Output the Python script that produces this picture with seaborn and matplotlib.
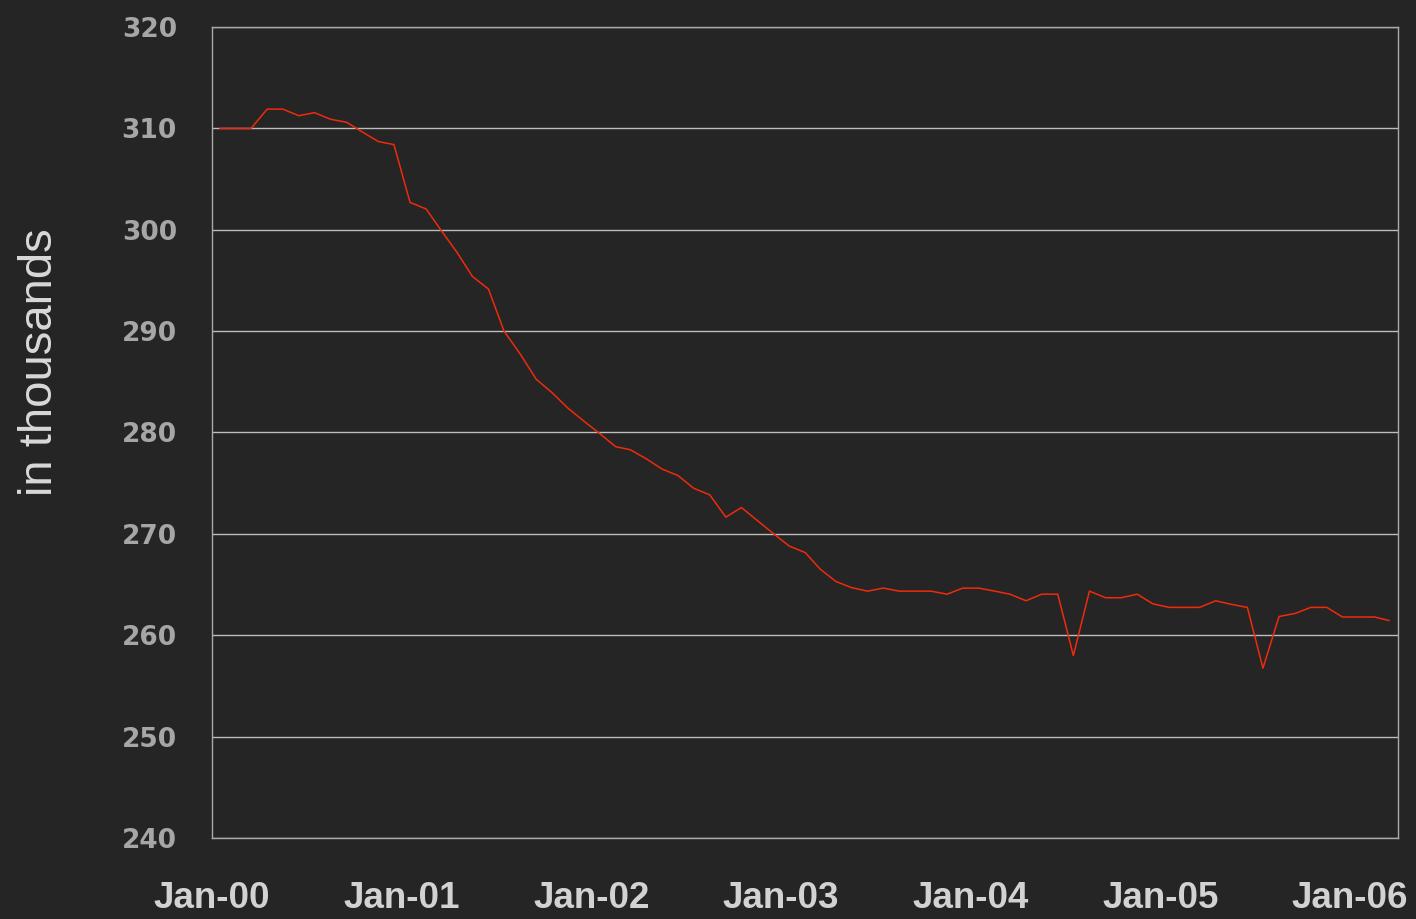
import pandas as pd
import matplotlib
matplotlib.use("Agg")
import matplotlib.pyplot as plt
import matplotlib.dates as mdates
from matplotlib import font_manager
import seaborn as sns

# monthly series, Jan 2000 - Mar 2006 (in thousands)
months = pd.date_range("2000-01-17", periods=75, freq=pd.DateOffset(months=1))
values = [
    310.0, 310.0, 310.0, 311.9, 311.9, 311.25, 311.55, 310.9, 310.6, 309.65, 308.7, 308.4,
    302.7, 302.05, 300.0, 297.8, 295.4, 294.15, 290.0, 287.75, 285.25, 283.95, 282.4, 281.15,
    279.9, 278.6, 278.3, 277.4, 276.4, 275.75, 274.5, 273.85, 271.65, 272.6, 271.3, 270.05,
    268.8, 268.15, 266.55, 265.3, 264.7, 264.35, 264.65, 264.35, 264.35, 264.35, 264.05, 264.65,
    264.65, 264.35, 264.05, 263.4, 264.05, 264.05, 258.0, 264.35, 263.7, 263.7, 264.05, 263.1,
    262.75, 262.75, 262.75, 263.4, 263.05, 262.75, 256.75, 261.85, 262.15, 262.75, 262.75, 261.8,
    261.8, 261.8, 261.45,
]
year_ticks = pd.date_range("2000-01-01", "2006-01-01", freq="YS")
y_ticks = [240, 250, 260, 270, 280, 290, 300, 310, 320]
y_label = "in thousands"

bg = "#252525"
sns.set_style("dark", {"axes.facecolor": bg, "figure.facecolor": bg})
plt.rcParams["font.family"] = ["Liberation Sans", "DejaVu Sans"]

names = {f.name for f in font_manager.fontManager.ttflist}
if "Liberation Sans Narrow" in names:
    xfont, xsize = "Liberation Sans Narrow", 31
else:
    xfont, xsize = "Liberation Sans", 26.5

df = pd.DataFrame({"month": months, "value": values})

fig = plt.figure(figsize=(14.16, 9.19), dpi=100)
ax = fig.add_axes([211.6 / 1416, 1 - 838 / 919, (1398 - 211.6) / 1416, (838 - 27) / 919])

sns.lineplot(data=df, x="month", y="value", ax=ax, color="#f02a0c", linewidth=1.1)

ax.set_ylim(240, 320)
ax.set_yticks(y_ticks)
ax.set_xlim(pd.Timestamp("2000-01-01"), pd.Timestamp("2006-04-03"))
ax.set_xticks(year_ticks)
ax.xaxis.set_major_formatter(mdates.DateFormatter("%b-%y"))

ax.grid(axis="y", color="#bdbdbd", linewidth=1.0)
ax.grid(axis="x", visible=False)
for s in ax.spines.values():
    s.set_visible(True)
    s.set_color("#aaaaaa")
    s.set_linewidth(1.0)

ax.tick_params(axis="y", length=0, pad=25, labelsize=19, labelcolor="#a6a6a6")
ax.tick_params(axis="x", length=10, width=1, color="#aaaaaa", direction="out",
               pad=21, labelcolor="#d2d2d2")
for t in ax.get_yticklabels():
    t.set_fontfamily("DejaVu Sans")
    t.set_fontweight("bold")
for t in ax.get_xticklabels():
    t.set_fontfamily(xfont)
    t.set_fontweight("bold")
    t.set_fontsize(xsize)

ax.set_xlabel("")
ax.set_ylabel(y_label, fontsize=34, color="#d9d9d9", va="center", ha="center")
ax.yaxis.set_label_coords((40 - 211.6) / (1398 - 211.6), (838 - 362) / 811)

fig.savefig("out.png", dpi=100, facecolor=bg)
